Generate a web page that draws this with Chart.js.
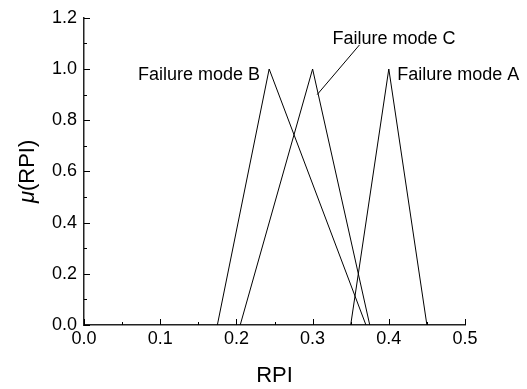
<!DOCTYPE html>
<html>
<head>
<meta charset="utf-8">
<script src="https://cdn.jsdelivr.net/npm/chart.js@4"></script>
<style>
  html, body { margin: 0; padding: 0; background: #fff; }
  #wrap { width: 527px; height: 389px; }
</style>
</head>
<body>
<div id="wrap"><canvas id="c"></canvas></div>
<script>
// triangular membership functions: RPI points and mu values
const modeA_x = [0.35, 0.40, 0.45];
const modeA_y = [0, 1, 0];
const modeB_x = [0.175, 0.243, 0.37];
const modeB_y = [0, 1, 0];
const modeC_x = [0.205, 0.30, 0.375];
const modeC_y = [0, 1, 0];

const xTicks = [0, 0.1, 0.2, 0.3, 0.4, 0.5];
const yTicks = [0, 0.2, 0.4, 0.6, 0.8, 1.0, 1.2];

const FONT = "'Liberation Sans', Arial, sans-serif";

function pts(xs, ys) {
  return xs.map((x, i) => ({ x: x, y: ys[i] }));
}

// annotation text, anchored in data space
const labels = [
  { text: 'Failure mode B', x: 0.231, y: 0.978, align: 'right' },
  { text: 'Failure mode A', x: 0.411, y: 0.978, align: 'left' },
  { text: 'Failure mode C', x: 0.326, y: 1.117, align: 'left' }
];
const leader = { x1: 0.3615, y1: 1.094, x2: 0.306, y2: 0.90 };

const decorations = {
  id: 'decorations',
  afterDraw(chart) {
    const { ctx, scales: { x, y }, chartArea } = chart;
    ctx.save();
    ctx.strokeStyle = '#000';
    ctx.lineWidth = 1;

    // inward tick marks, major + minor
    ctx.beginPath();
    for (let v = 0; v <= 0.5001; v += 0.05) {
      const px = Math.round(x.getPixelForValue(v)) + 0.5;
      const major = Math.abs(v * 10 - Math.round(v * 10)) < 1e-6;
      ctx.moveTo(px, chartArea.bottom);
      ctx.lineTo(px, chartArea.bottom - (major ? 6 : 3));
    }
    for (let v = 0; v <= 1.2001; v += 0.1) {
      const py = Math.round(y.getPixelForValue(v)) + 0.5;
      const major = Math.round(v * 10) % 2 === 0;
      ctx.moveTo(chartArea.left, py);
      ctx.lineTo(chartArea.left + (major ? 6 : 3), py);
    }
    ctx.stroke();

    // annotations
    ctx.fillStyle = '#000';
    ctx.font = '18px ' + FONT;
    ctx.textBaseline = 'middle';
    labels.forEach(l => {
      ctx.textAlign = l.align;
      ctx.fillText(l.text, x.getPixelForValue(l.x), y.getPixelForValue(l.y));
    });
    ctx.beginPath();
    ctx.moveTo(x.getPixelForValue(leader.x1), y.getPixelForValue(leader.y1));
    ctx.lineTo(x.getPixelForValue(leader.x2), y.getPixelForValue(leader.y2));
    ctx.stroke();

    // y axis title with italic mu
    const cy = (chartArea.top + chartArea.bottom) / 2;
    ctx.translate(28, cy);
    ctx.rotate(-Math.PI / 2);
    ctx.textBaseline = 'middle';
    ctx.textAlign = 'left';
    ctx.font = 'italic 22px ' + FONT;
    const muW = ctx.measureText('\u03bc').width;
    ctx.font = '22px ' + FONT;
    const restW = ctx.measureText('(RPI)').width;
    const start = -(muW + restW) / 2;
    ctx.font = 'italic 22px ' + FONT;
    ctx.fillText('\u03bc', start, 0);
    ctx.font = '22px ' + FONT;
    ctx.fillText('(RPI)', start + muW, 0);
    ctx.restore();
  }
};

const lineStyle = {
  borderColor: '#000',
  borderWidth: 1,
  pointRadius: 0,
  showLine: true,
  fill: false,
  tension: 0
};

new Chart(document.getElementById('c'), {
  type: 'scatter',
  data: {
    datasets: [
      Object.assign({ label: 'Failure mode A', data: pts(modeA_x, modeA_y) }, lineStyle),
      Object.assign({ label: 'Failure mode B', data: pts(modeB_x, modeB_y) }, lineStyle),
      Object.assign({ label: 'Failure mode C', data: pts(modeC_x, modeC_y) }, lineStyle)
    ]
  },
  options: {
    responsive: true,
    maintainAspectRatio: false,
    animation: false,
    layout: { padding: { top: 16, right: 62, left: 0, bottom: 0 } },
    plugins: {
      legend: { display: false },
      tooltip: { enabled: false }
    },
    scales: {
      x: {
        type: 'linear',
        min: 0,
        max: 0.5,
        afterBuildTicks: s => { s.ticks = xTicks.map(v => ({ value: v })); },
        afterFit: s => { s.height = 64; },
        grid: { display: false, drawTicks: false },
        border: { display: true, color: '#222', width: 1.5 },
        ticks: {
          color: '#000',
          padding: 3,
          maxRotation: 0,
          font: { family: FONT, size: 18 },
          callback: v => v.toFixed(1)
        },
        title: {
          display: true,
          text: 'RPI',
          color: '#000',
          font: { family: FONT, size: 22 },
          padding: { top: 6, bottom: 0 }
        }
      },
      y: {
        type: 'linear',
        min: 0,
        max: 1.2,
        afterBuildTicks: s => { s.ticks = yTicks.map(v => ({ value: v })); },
        afterFit: s => { s.width = 84; },
        grid: { display: false, drawTicks: false },
        border: { display: true, color: '#222', width: 1.5 },
        ticks: {
          color: '#000',
          padding: 7,
          font: { family: FONT, size: 18 },
          callback: v => v.toFixed(1)
        }
      }
    }
  },
  plugins: [decorations]
});
</script>
</body>
</html>
